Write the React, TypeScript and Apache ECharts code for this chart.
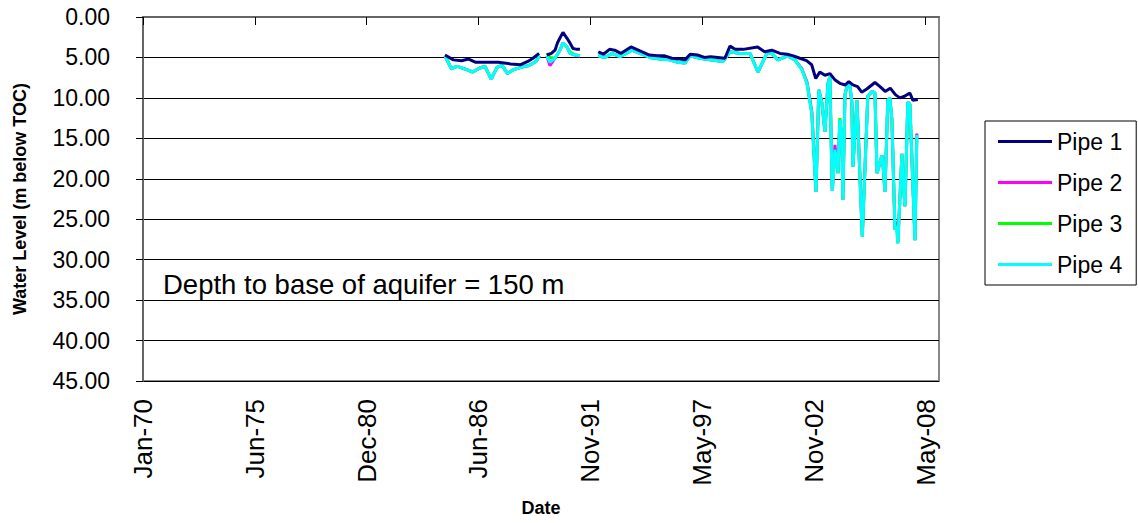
import React, { useEffect, useRef } from "react";
import * as echarts from "echarts";

const seriesNames = ["Pipe 1", "Pipe 2", "Pipe 3", "Pipe 4"];
const seriesColors = ["#000080", "#FF00FF", "#00FF00", "#00FFFF"];
const xTickDays = [0, 2000, 4000, 6000, 8000, 10000, 12000, 14000];
const yMin = 0;
const yMax = 45;
const yStep = 5;
const annotationText = "Depth to base of aquifer = 150 m";

// Pipe 1 (decimal year, water level m below TOC); null = no reading (gap)
const pipe1Years = [
  1984.79, 1985.2, 1985.6, 1985.95, 1986.3, 1986.8, 1987.4, 1988.0, 1988.5, 1988.85, 1989.1, 1989.4,
  1989.6,
  1989.78, 1990.0, 1990.18, 1990.3, 1990.42, 1990.57, 1990.76, 1990.91, 1991.06, 1991.25, 1991.4,
  1991.8,
  1992.3, 1992.55, 1992.85, 1993.1, 1993.4, 1993.9, 1994.34, 1994.8, 1995.2, 1995.55, 1995.9, 1996.3,
  1996.55, 1996.8, 1997.15, 1997.5, 1997.8, 1998.15, 1998.5, 1998.75, 1999.0, 1999.4, 2000.1, 2000.45,
  2000.8, 2001.2, 2001.55, 2001.85, 2002.17, 2002.5, 2002.75, 2002.95, 2003.15, 2003.4, 2003.65, 2003.9,
  2004.13, 2004.4, 2004.57, 2004.77, 2005.0, 2005.2, 2005.45, 2005.85, 2006.1, 2006.35, 2006.6, 2006.85,
  2007.07, 2007.3, 2007.56, 2007.71, 2007.95,
];
const pipe1Levels = [
  4.7, 5.3, 5.4, 5.2, 5.6, 5.6, 5.6, 5.8, 5.9, 5.5, 5.1, 4.5,
  null,
  4.7, 4.5, 4.1, 3.2, 2.6, 1.9, 2.6, 3.2, 3.9, 4.0, 4.0,
  null,
  4.3, 4.6, 4.0, 4.1, 4.5, 3.7, 4.2, 4.7, 4.8, 4.8, 5.1, 5.2,
  5.3, 4.6, 4.7, 5.0, 4.9, 5.0, 5.1, 3.6, 4.0, 4.0, 3.7, 4.3,
  4.1, 4.5, 4.6, 4.8, 5.1, 5.4, 5.9, 7.6, 6.8, 7.2, 7.0, 7.8,
  8.2, 8.4, 8.0, 8.4, 8.6, 9.3, 8.9, 8.1, 8.6, 9.2, 8.8, 9.6,
  10.0, 9.8, 9.4, 10.3, 10.2,
];

// Pipes 2-4 share reading dates
const deepPipeYears = [
  1984.79, 1985.1, 1985.4, 1985.85, 1986.15, 1986.5, 1986.75, 1987.05, 1987.35, 1987.6, 1987.85, 1988.15,
  1988.55, 1988.9, 1989.25, 1989.42,
  1989.6,
  1989.78, 1989.93, 1990.18, 1990.42, 1990.57, 1990.76, 1990.91, 1991.16, 1991.4,
  1991.8,
  1992.3, 1992.62, 1992.97, 1993.36, 1993.95, 1994.34, 1994.83, 1995.32, 1995.81, 1996.2, 1996.54, 1996.79,
  1997.28, 1997.77, 1998.4, 1998.75, 1999.24, 1999.73, 2000.12, 2000.56, 2000.8, 2001.1, 2001.58, 2001.93,
  2002.27, 2002.52, 2002.76, 2002.96, 2003.1, 2003.25, 2003.4, 2003.55, 2003.64, 2003.76, 2003.89, 2003.99,
  2004.04, 2004.13, 2004.23, 2004.28, 2004.38, 2004.52, 2004.62, 2004.72, 2004.77, 2004.97, 2005.23, 2005.5,
  2005.7, 2005.85, 2005.95, 2006.09, 2006.19, 2006.24, 2006.34, 2006.48, 2006.58, 2006.68, 2006.83, 2006.92,
  2006.97, 2007.07, 2007.17, 2007.22, 2007.32, 2007.46, 2007.56, 2007.81, 2007.9,
];
const pipe2Levels = [
  4.8, 6.4, 6.1, 6.5, 6.8, 6.3, 6.1, 7.7, 6.2, 6.0, 7.0, 6.5,
  6.2, 6.0, 5.5, 4.8,
  null,
  4.8, 6.0, 5.1, 4.1, 3.2, 3.7, 4.5, 4.7, 4.8,
  null,
  4.8, 5.0, 4.5, 4.9, 4.1, 4.5, 5.0, 5.2, 5.3, 5.6, 5.7, 4.8,
  5.1, 5.3, 5.5, 4.3, 4.5, 4.5, 6.8, 4.5, 4.5, 5.3, 4.8, 5.3,
  6.4, 8.0, 11.7, 21.6, 9.0, 10.6, 14.2, 8.2, 7.4, 21.5, 15.8, 18.1,
  19.3, 12.7, 15.2, 22.6, 9.6, 8.2, 8.4, 10.6, 18.5, 10.3, 27.0, 9.8,
  9.2, 9.4, 19.3, 18.1, 17.1, 18.1, 21.6, 10.3, 10.0, 12.7, 26.3, 25.3,
  27.8, 22.6, 16.9, 20.1, 23.4, 10.5, 10.8, 27.6, 14.4,
];
const pipe3Levels = [
  4.8, 6.3, 6.1, 6.5, 6.8, 6.3, 6.1, 7.6, 6.2, 6.0, 7.0, 6.5,
  6.2, 6.0, 5.5, 4.8,
  null,
  4.5, 5.0, 5.1, 4.1, 3.3, 3.7, 4.3, 4.7, 4.8,
  null,
  4.8, 5.0, 4.5, 4.9, 4.1, 4.5, 5.0, 5.2, 5.3, 5.6, 5.7, 4.8,
  5.1, 5.3, 5.5, 4.3, 4.5, 4.5, 6.8, 4.5, 4.5, 5.3, 4.8, 5.3,
  6.5, 8.2, 12.0, 21.6, 9.0, 10.6, 14.2, 8.2, 7.4, 21.5, 16.8, 18.1,
  19.3, 12.5, 15.2, 22.6, 9.6, 8.2, 8.4, 10.6, 18.5, 10.3, 27.2, 9.8,
  9.2, 9.4, 19.3, 18.1, 17.1, 18.1, 21.6, 10.3, 10.0, 12.7, 26.3, 25.8,
  28.0, 22.6, 16.9, 20.1, 23.4, 10.5, 10.8, 27.6, 14.6,
];
const pipe4Levels = [
  4.8, 6.4, 6.1, 6.5, 6.8, 6.3, 6.1, 7.7, 6.2, 6.0, 7.0, 6.5,
  6.2, 6.0, 5.5, 4.8,
  null,
  4.8, 5.6, 5.1, 4.1, 3.2, 3.7, 4.5, 4.7, 4.8,
  null,
  4.8, 5.0, 4.5, 4.9, 4.1, 4.5, 5.0, 5.2, 5.3, 5.6, 5.7, 4.8,
  5.1, 5.3, 5.5, 4.3, 4.5, 4.5, 6.8, 4.5, 4.5, 5.3, 4.8, 5.3,
  6.5, 8.2, 12.0, 21.6, 9.0, 10.6, 14.2, 8.2, 7.4, 21.5, 16.4, 18.1,
  19.3, 12.7, 15.2, 22.6, 9.6, 8.2, 8.4, 10.6, 18.5, 10.3, 27.2, 9.8,
  9.2, 9.4, 19.3, 18.1, 17.1, 18.1, 21.6, 10.3, 10.0, 12.7, 26.3, 25.9,
  28.0, 22.6, 16.9, 20.1, 23.4, 10.5, 10.8, 27.6, 14.6,
];

const MONTHS = ["Jan", "Feb", "Mar", "Apr", "May", "Jun", "Jul", "Aug", "Sep", "Oct", "Nov", "Dec"];
const yearToDays = (y: number) => (y - 1970) * 365.25;
const dayLabel = (d: number) => {
  const dt = new Date(Date.UTC(1970, 0, 1) + Math.round(d) * 86400000);
  return MONTHS[dt.getUTCMonth()] + "-" + String(dt.getUTCFullYear() % 100).padStart(2, "0");
};
const pairs = (years: number[], levels: (number | null)[]) =>
  years.map((y, i) => [yearToDays(y), levels[i] === null ? null : levels[i]]);

const FONT = "Liberation Sans, Arial, sans-serif";

export default function App() {
  const ref = useRef<HTMLDivElement>(null);
  useEffect(() => {
    if (!ref.current) return;
    const chart = echarts.init(ref.current, undefined, { renderer: "svg" });
    const data = [
      pairs(pipe1Years, pipe1Levels),
      pairs(deepPipeYears, pipe2Levels),
      pairs(deepPipeYears, pipe3Levels),
      pairs(deepPipeYears, pipe4Levels),
    ];
    const yScale = { type: "value", inverse: true, min: yMin, max: yMax, interval: yStep, position: "left" };
    chart.setOption({
      animation: false,
      backgroundColor: "#ffffff",
      textStyle: { fontFamily: FONT, color: "#000" },
      grid: {
        left: 143,
        right: 199,
        top: 17,
        bottom: 142,
        show: true,
        borderColor: "#888",
        borderWidth: 2,
        backgroundColor: "transparent",
        outerBoundsMode: "none",
      },
      legend: {
        orient: "vertical",
        left: 985,
        top: 121,
        data: seriesNames,
        icon: "rect",
        itemWidth: 54,
        itemHeight: 3,
        itemGap: 18,
        padding: [9, 14, 9, 13],
        borderColor: "#000",
        borderWidth: 1,
        textStyle: { fontFamily: FONT, fontSize: 23, color: "#000", lineHeight: 23 },
      },
      xAxis: {
        type: "value",
        min: 0,
        max: 14240,
        name: "Date",
        nameLocation: "middle",
        nameGap: 118,
        nameTextStyle: { fontFamily: FONT, fontSize: 18, fontWeight: "bold", color: "#000" },
        axisLine: { show: true, lineStyle: { color: "#666", width: 2 } },
        axisTick: { show: true, length: 8, customValues: xTickDays, lineStyle: { color: "#000" } },
        axisLabel: {
          rotate: 90,
          margin: 18,
          fontSize: 26,
          fontFamily: FONT,
          color: "#000",
          customValues: xTickDays,
          formatter: (v: number) => dayLabel(v),
        },
        splitLine: { show: false },
      },
      yAxis: [
        {
          ...yScale,
          name: "Water Level (m below TOC)",
          nameLocation: "middle",
          nameRotate: 90,
          nameGap: 114,
          nameTextStyle: { fontFamily: FONT, fontSize: 18, fontWeight: "bold", color: "#000" },
          axisLine: { show: true, lineStyle: { color: "#666", width: 2 } },
          axisTick: { show: true, length: 7, lineStyle: { color: "#000" } },
          axisLabel: { show: false },
          splitLine: { show: true, lineStyle: { color: "#000", width: 1 } },
        },
        {
          ...yScale,
          offset: 25,
          axisLine: { show: false },
          axisTick: { show: false },
          splitLine: { show: false },
          axisLabel: {
            margin: 8,
            fontSize: 23,
            fontFamily: FONT,
            color: "#000",
            formatter: (v: number) => v.toFixed(2),
          },
        },
      ],
      graphic: [
        {
          type: "text",
          left: 163,
          top: 270,
          style: { text: annotationText, font: "27.5px Liberation Sans", fill: "#000" },
        },
      ],
      series: seriesNames.map((name, i) => ({
        name,
        type: "line",
        yAxisIndex: 0,
        data: data[i],
        symbol: "none",
        connectNulls: false,
        z: i === 0 ? 5 : 2 + i * 0.1,
        color: seriesColors[i],
        lineStyle: { color: seriesColors[i], width: 3 },
      })),
    });
    return () => chart.dispose();
  }, []);
  return (
    <div
      ref={ref}
      style={{ position: "fixed", left: 0, top: 0, width: 1138, height: 523, background: "#fff" }}
    />
  );
}
